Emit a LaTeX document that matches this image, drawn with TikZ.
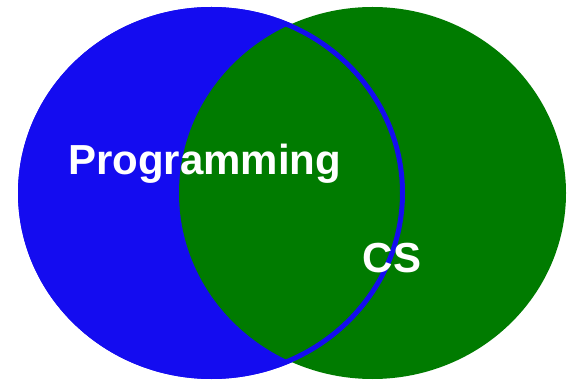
\documentclass[tikz,border=0pt]{standalone}
\usepackage{fontspec}
\setmainfont{Liberation Sans}
\definecolor{vblue}{RGB}{20,12,240}
\definecolor{vgreen}{RGB}{0,123,0}
\begin{document}
\begin{tikzpicture}[x=1pt,y=1pt,
  lbl/.style={text=white,font=\fontsize{42}{48}\selectfont\bfseries,inner sep=0pt,anchor=base}]
\useasboundingbox (0,0) rectangle (567,380);
\begin{scope}
\clip (0,0) rectangle (567,380);
\fill[vblue] (211.5,187) ellipse [x radius=193.5, y radius=186];
\fill[vgreen] (372.5,187) ellipse [x radius=193.5, y radius=186];
\draw[vblue,line width=5pt] (211.5,187) ellipse [x radius=191, y radius=183.5];
\end{scope}
\node[lbl] (prog) at (204.75,205.7) {Programming};
\node[lbl] (cs) at (392,107.3) {CS};
\end{tikzpicture}
\end{document}
